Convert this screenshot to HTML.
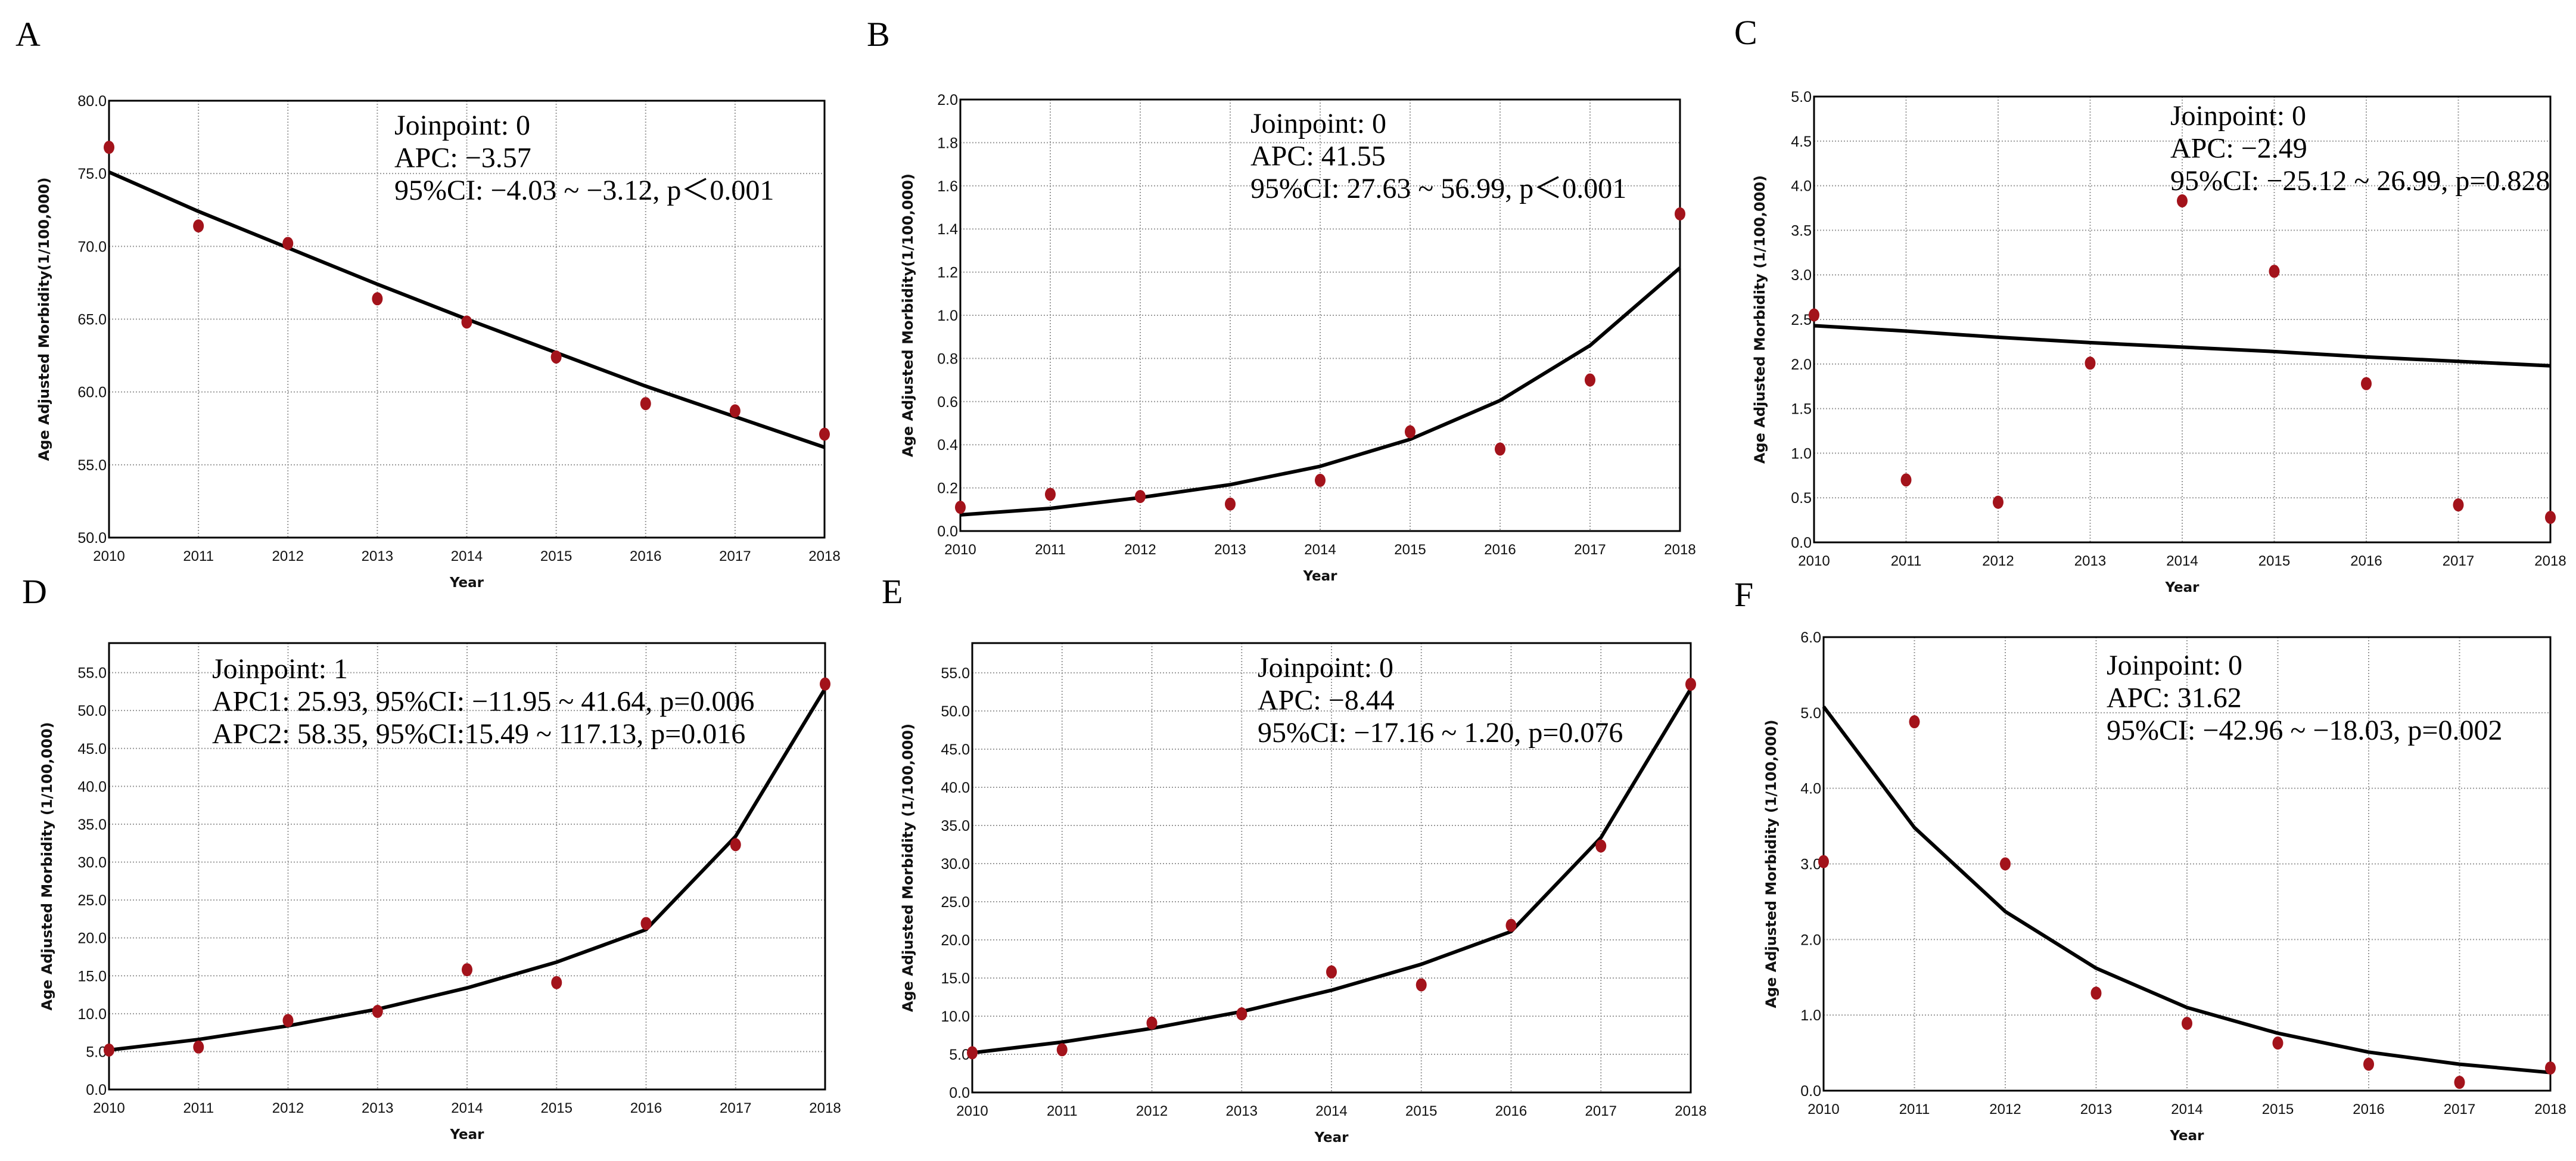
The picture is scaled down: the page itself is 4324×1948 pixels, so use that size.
<!DOCTYPE html>
<html><head><meta charset="utf-8"><style>
html,body{margin:0;padding:0;background:#fff;}
svg{display:block;}
</style></head><body>
<svg id="fig" width="4324" height="1948" viewBox="0 0 4324 1948" xmlns="http://www.w3.org/2000/svg"></svg>
<script>
const years = [2010,2011,2012,2013,2014,2015,2016,2017,2018];
const obsA = [76.8,71.4,70.2,66.4,64.8,62.4,59.2,58.7,57.1];
const fitA = [75.1,72.4,69.9,67.4,65.0,62.7,60.4,58.3,56.2];
const obsB = [0.11,0.17,0.16,0.125,0.235,0.46,0.38,0.70,1.47];
const fitB = [0.075,0.105,0.155,0.215,0.30,0.425,0.605,0.86,1.22];
const obsC = [2.55,0.70,0.45,2.01,3.83,3.04,1.78,0.42,0.28];
const fitC = [2.43,2.37,2.30,2.24,2.19,2.14,2.08,2.03,1.98];
const obsD = [5.2,5.6,9.1,10.3,15.8,14.1,21.9,32.3,53.5];
const fitD = [5.2,6.6,8.4,10.6,13.4,16.8,21.1,33.4,52.9];
const obsE = [5.2,5.6,9.1,10.3,15.8,14.1,21.9,32.3,53.5];
const fitE = [5.2,6.6,8.4,10.6,13.4,16.8,21.1,33.4,52.9];
const obsF = [3.03,4.88,3.0,1.29,0.89,0.63,0.35,0.11,0.30];
const fitF = [5.08,3.48,2.37,1.62,1.10,0.76,0.51,0.35,0.24];
const ticksA = [50,55,60,65,70,75,80];
const ticksB = [0,0.2,0.4,0.6,0.8,1.0,1.2,1.4,1.6,1.8,2.0];
const ticksC = [0,0.5,1,1.5,2,2.5,3,3.5,4,4.5,5];
const ticksD = [0,5,10,15,20,25,30,35,40,45,50,55];
const ticksF = [0,1,2,3,4,5,6];
const textA = ["Joinpoint: 0","APC: \u22123.57","95%CI: \u22124.03 ~ \u22123.12, p\uFF1C0.001"];
const textB = ["Joinpoint: 0","APC: 41.55","95%CI: 27.63 ~ 56.99, p\uFF1C0.001"];
const textC = ["Joinpoint: 0","APC: \u22122.49","95%CI: \u221225.12 ~ 26.99, p=0.828"];
const textD = ["Joinpoint: 1","APC1: 25.93, 95%CI: \u221211.95 ~ 41.64, p=0.006","APC2: 58.35, 95%CI:15.49 ~ 117.13, p=0.016"];
const textE = ["Joinpoint: 0","APC: \u22128.44","95%CI: \u221217.16 ~ 1.20, p=0.076"];
const textF = ["Joinpoint: 0","APC: 31.62","95%CI:  \u221242.96 ~ \u221218.03, p=0.002"];

const NS="http://www.w3.org/2000/svg";
const svg=document.getElementById('fig');
function mk(tag,attrs,parent){const e=document.createElementNS(NS,tag);for(const k in attrs)e.setAttribute(k,attrs[k]);(parent||svg).appendChild(e);return e;}

const panels=[
 {id:'a',label:'A',lx:26,ly:77,L:183,R:1384,T:169,B:902,ymin:50,ymax:80,ticks:ticksA,dec:1,obs:obsA,fit:fitA,text:textA,tx:662,ty:226,yt:'Age Adjusted Morbidity(1/100,000)',ytx:74},
 {id:'b',label:'B',lx:1455,ly:77,L:1612,R:2820,T:167,B:891,ymin:0,ymax:2,ticks:ticksB,dec:1,obs:obsB,fit:fitB,text:textB,tx:2099,ty:223,yt:'Age Adjusted Morbidity(1/100,000)',ytx:1524},
 {id:'c',label:'C',lx:2911,ly:74,L:3045,R:4281,T:162,B:910,ymin:0,ymax:5,ticks:ticksC,dec:1,obs:obsC,fit:fitC,text:textC,tx:3643,ty:210,yt:'Age Adjusted Morbidity (1/100,000)',ytx:2954},
 {id:'d',label:'D',lx:37,ly:1012,L:183,R:1385,T:1079,B:1828,ymin:0,ymax:58.9,ticks:ticksD,dec:1,obs:obsD,fit:fitD,text:textD,tx:356,ty:1138,yt:'Age Adjusted Morbidity (1/100,000)',ytx:79},
 {id:'e',label:'E',lx:1480,ly:1012,L:1632,R:2838,T:1079,B:1833,ymin:0,ymax:58.9,ticks:ticksD,dec:1,obs:obsE,fit:fitE,text:textE,tx:2111,ty:1136,yt:'Age Adjusted Morbidity (1/100,000)',ytx:1524},
 {id:'f',label:'F',lx:2911,ly:1017,L:3061,R:4281,T:1069,B:1830,ymin:0,ymax:6,ticks:ticksF,dec:1,obs:obsF,fit:fitF,text:textF,tx:3536,ty:1132,yt:'Age Adjusted Morbidity (1/100,000)',ytx:2973}
];

panels.forEach(p=>{
 const g=mk('g',{});
 
 
 const xs=i=>p.L+(p.R-p.L)*(years[i]-years[0])/(years[years.length-1]-years[0]);
 const ys=v=>p.B-(p.B-p.T)*(v-p.ymin)/(p.ymax-p.ymin);
 const lab=mk('text',{x:p.lx,y:p.ly,'font-family':'Liberation Serif, serif','font-size':58},g);
 lab.textContent=p.label;
 
 
 years.forEach((yr,i)=>{
  const l=mk('line',{x1:xs(i),x2:xs(i),y1:p.T,y2:p.B,stroke:'#999','stroke-width':2,'stroke-dasharray':'2,3'},g);
  
  
  const t=mk('text',{x:xs(i),y:p.B+39,'text-anchor':'middle','font-family':'Liberation Sans, sans-serif','font-size':24,fill:'#111'},g);
  t.textContent=yr;
  
  
 });
 p.ticks.forEach(v=>{
  const y=ys(v);
  const l=mk('line',{x1:p.L,x2:p.R,y1:y,y2:y,stroke:'#999','stroke-width':2,'stroke-dasharray':'2,3'},g);
  
  
  const t=mk('text',{x:p.L-4,y:y+9,'text-anchor':'end','font-family':'Liberation Sans, sans-serif','font-size':25,fill:'#111'},g);
  t.textContent=v.toFixed(p.dec);
  
  
 });
 const fr=mk('rect',{x:p.L,y:p.T,width:p.R-p.L,height:p.B-p.T,fill:'none',stroke:'#000','stroke-width':3},g);
 
 
 const pts=p.fit.map((v,i)=>xs(i)+','+ys(v)).join(' ');
 const pl=mk('polyline',{points:pts,fill:'none',stroke:'#000','stroke-width':6,'stroke-linejoin':'round'},g);
 
 
 p.obs.forEach((v,i)=>{
  const c=mk('ellipse',{cx:xs(i),cy:ys(v),rx:9,ry:11,fill:'#a3131b'},g);
  
  
 });
 p.text.forEach((s,k)=>{
  const t=mk('text',{x:p.tx,y:p.ty+k*54.5,'font-family':'Liberation Serif, serif','font-size':48,fill:'#000'},g);
  t.textContent=s;
  
  
 });
 const xt=mk('text',{x:(p.L+p.R)/2,y:p.B+83,'text-anchor':'middle','font-family':'DejaVu Sans, sans-serif','font-weight':'bold','font-size':23,fill:'#111'},g);
 xt.textContent='Year';
 
 
 const cy=(p.T+p.B)/2;
 const yt=mk('text',{x:p.ytx,y:cy,'text-anchor':'middle','font-family':'DejaVu Sans, sans-serif','font-weight':'bold','font-size':24,fill:'#111',transform:'rotate(-90 '+p.ytx+' '+cy+')',dy:8},g);
 yt.textContent=p.yt;
 
 
});
</script>
</body></html>
